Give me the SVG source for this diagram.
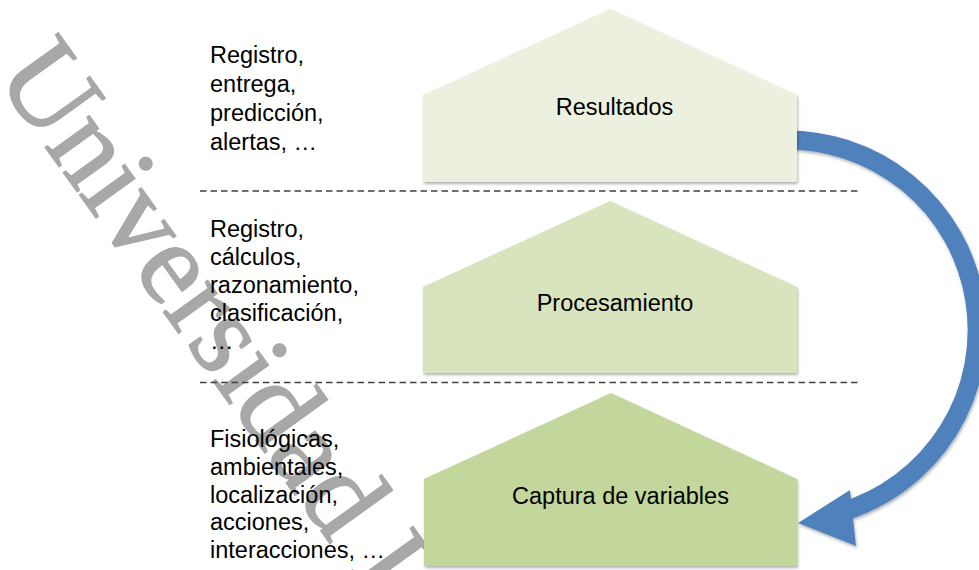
<svg xmlns="http://www.w3.org/2000/svg" width="979" height="570" viewBox="0 0 979 570">
<style>
.lbl{font-family:"Liberation Sans",Arial,sans-serif;font-size:23.5px;fill:#000}
.side{font-family:"Liberation Sans",Arial,sans-serif;font-size:23.5px;fill:#000}
.dash{stroke:#404040;stroke-width:1.4;stroke-dasharray:6.5 4;fill:none}
.wm{font-family:"Liberation Serif","Times New Roman",serif;font-size:118px;fill:#A8A8A8;stroke:#A8A8A8;stroke-width:1.6}
</style>
<defs>
<filter id="sh" x="-10%" y="-10%" width="130%" height="130%">
<feDropShadow dx="1" dy="2" stdDeviation="1.5" flood-color="#000" flood-opacity="0.3"/>
</filter>
</defs>
<rect width="979" height="570" fill="#fff"/>
<text class="wm" transform="translate(-6,76) rotate(54.3)">Universidad I</text>
<g id="connectors">
<line class="dash" x1="200" y1="191" x2="860" y2="191"/>
<line class="dash" x1="200" y1="382.5" x2="860" y2="382.5"/>
<g id="cycle-arrow" filter="url(#sh)">
<path d="M780,140.1 A190,190 0 0 1 841.6,512" fill="none" stroke="#4F81BD" stroke-width="19"/>
<polygon points="798,523 850,490 856,546" fill="#4F81BD"/>
</g>
</g>
<g id="resultados">
<polygon points="423,95 610,9 797,95 797,182 423,182" fill="#EBF1DE" filter="url(#sh)"/>
<text class="lbl" x="614.5" y="115" text-anchor="middle">Resultados</text>
</g>
<g id="procesamiento">
<polygon points="423,287 610,201 797,287 797,373 423,373" fill="#D7E4BD" filter="url(#sh)"/>
<text class="lbl" x="615" y="311" text-anchor="middle">Procesamiento</text>
</g>
<g id="captura">
<polygon points="424,479 611,393 797,479 797,566 424,566" fill="#C3D69B" filter="url(#sh)"/>
<text class="lbl" x="620.5" y="503.5" text-anchor="middle">Captura de variables</text>
</g>
<g id="text-resultados">
<text class="side" x="210" y="63">Registro,</text>
<text class="side" x="210" y="92">entrega,</text>
<text class="side" x="210" y="121">predicción,</text>
<text class="side" x="210" y="149.5">alertas, …</text>
</g>
<g id="text-procesamiento">
<text class="side" x="210" y="237">Registro,</text>
<text class="side" x="210" y="265">cálculos,</text>
<text class="side" x="210" y="293">razonamiento,</text>
<text class="side" x="210" y="320.5">clasificación,</text>
<text class="side" x="210" y="348.5">…</text>
</g>
<g id="text-captura">
<text class="side" x="210" y="447">Fisiológicas,</text>
<text class="side" x="210" y="475">ambientales,</text>
<text class="side" x="210" y="502.5">localización,</text>
<text class="side" x="210" y="530">acciones,</text>
<text class="side" x="210" y="558">interacciones, …</text>
</g>
</svg>
